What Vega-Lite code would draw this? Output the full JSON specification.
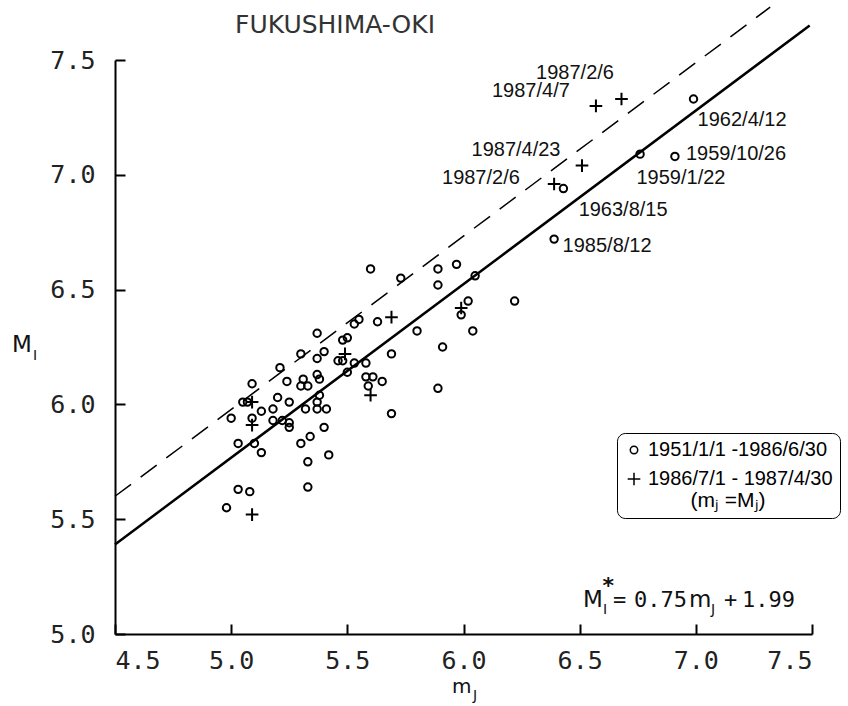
{
  "$schema": "https://vega.github.io/schema/vega-lite/v6.json",
  "width": 697,
  "height": 574,
  "autosize": {"type": "none"},
  "padding": {"left": 115, "top": 60, "right": 36, "bottom": 72},
  "background": "white",
  "config": {
    "view": {"stroke": null},
    "axis": {
      "grid": false,
      "title": null,
      "domainColor": "black",
      "domainWidth": 2,
      "tickColor": "black",
      "tickWidth": 2,
      "tickSize": -10,
      "labelFont": "DejaVu Sans Mono",
      "labelFontSize": 25,
      "labelColor": "#222",
      "format": ".1f"
    }
  },
  "datasets": {
    "points": [
      {"m": 6.99, "M": 7.33, "period": "1951/1/1 -1986/6/30"},
      {"m": 6.76, "M": 7.09, "period": "1951/1/1 -1986/6/30"},
      {"m": 6.91, "M": 7.08, "period": "1951/1/1 -1986/6/30"},
      {"m": 6.43, "M": 6.94, "period": "1951/1/1 -1986/6/30"},
      {"m": 6.39, "M": 6.72, "period": "1951/1/1 -1986/6/30"},
      {"m": 5.60, "M": 6.59, "period": "1951/1/1 -1986/6/30"},
      {"m": 5.73, "M": 6.55, "period": "1951/1/1 -1986/6/30"},
      {"m": 5.89, "M": 6.59, "period": "1951/1/1 -1986/6/30"},
      {"m": 5.97, "M": 6.61, "period": "1951/1/1 -1986/6/30"},
      {"m": 5.89, "M": 6.52, "period": "1951/1/1 -1986/6/30"},
      {"m": 6.05, "M": 6.56, "period": "1951/1/1 -1986/6/30"},
      {"m": 6.02, "M": 6.45, "period": "1951/1/1 -1986/6/30"},
      {"m": 5.99, "M": 6.39, "period": "1951/1/1 -1986/6/30"},
      {"m": 6.22, "M": 6.45, "period": "1951/1/1 -1986/6/30"},
      {"m": 6.04, "M": 6.32, "period": "1951/1/1 -1986/6/30"},
      {"m": 5.80, "M": 6.32, "period": "1951/1/1 -1986/6/30"},
      {"m": 5.91, "M": 6.25, "period": "1951/1/1 -1986/6/30"},
      {"m": 5.63, "M": 6.36, "period": "1951/1/1 -1986/6/30"},
      {"m": 5.53, "M": 6.35, "period": "1951/1/1 -1986/6/30"},
      {"m": 5.55, "M": 6.37, "period": "1951/1/1 -1986/6/30"},
      {"m": 5.48, "M": 6.28, "period": "1951/1/1 -1986/6/30"},
      {"m": 5.50, "M": 6.29, "period": "1951/1/1 -1986/6/30"},
      {"m": 5.46, "M": 6.19, "period": "1951/1/1 -1986/6/30"},
      {"m": 5.48, "M": 6.19, "period": "1951/1/1 -1986/6/30"},
      {"m": 5.53, "M": 6.18, "period": "1951/1/1 -1986/6/30"},
      {"m": 5.58, "M": 6.18, "period": "1951/1/1 -1986/6/30"},
      {"m": 5.50, "M": 6.14, "period": "1951/1/1 -1986/6/30"},
      {"m": 5.58, "M": 6.12, "period": "1951/1/1 -1986/6/30"},
      {"m": 5.61, "M": 6.12, "period": "1951/1/1 -1986/6/30"},
      {"m": 5.59, "M": 6.08, "period": "1951/1/1 -1986/6/30"},
      {"m": 5.65, "M": 6.10, "period": "1951/1/1 -1986/6/30"},
      {"m": 5.69, "M": 6.22, "period": "1951/1/1 -1986/6/30"},
      {"m": 5.89, "M": 6.07, "period": "1951/1/1 -1986/6/30"},
      {"m": 5.69, "M": 5.96, "period": "1951/1/1 -1986/6/30"},
      {"m": 5.37, "M": 6.31, "period": "1951/1/1 -1986/6/30"},
      {"m": 5.30, "M": 6.22, "period": "1951/1/1 -1986/6/30"},
      {"m": 5.40, "M": 6.23, "period": "1951/1/1 -1986/6/30"},
      {"m": 5.37, "M": 6.20, "period": "1951/1/1 -1986/6/30"},
      {"m": 5.21, "M": 6.16, "period": "1951/1/1 -1986/6/30"},
      {"m": 5.09, "M": 6.09, "period": "1951/1/1 -1986/6/30"},
      {"m": 5.24, "M": 6.10, "period": "1951/1/1 -1986/6/30"},
      {"m": 5.31, "M": 6.11, "period": "1951/1/1 -1986/6/30"},
      {"m": 5.30, "M": 6.08, "period": "1951/1/1 -1986/6/30"},
      {"m": 5.33, "M": 6.08, "period": "1951/1/1 -1986/6/30"},
      {"m": 5.37, "M": 6.13, "period": "1951/1/1 -1986/6/30"},
      {"m": 5.38, "M": 6.11, "period": "1951/1/1 -1986/6/30"},
      {"m": 5.05, "M": 6.01, "period": "1951/1/1 -1986/6/30"},
      {"m": 5.07, "M": 6.01, "period": "1951/1/1 -1986/6/30"},
      {"m": 5.20, "M": 6.03, "period": "1951/1/1 -1986/6/30"},
      {"m": 5.25, "M": 6.01, "period": "1951/1/1 -1986/6/30"},
      {"m": 5.38, "M": 6.04, "period": "1951/1/1 -1986/6/30"},
      {"m": 5.37, "M": 6.01, "period": "1951/1/1 -1986/6/30"},
      {"m": 5.13, "M": 5.97, "period": "1951/1/1 -1986/6/30"},
      {"m": 5.18, "M": 5.98, "period": "1951/1/1 -1986/6/30"},
      {"m": 5.18, "M": 5.93, "period": "1951/1/1 -1986/6/30"},
      {"m": 5.32, "M": 5.98, "period": "1951/1/1 -1986/6/30"},
      {"m": 5.37, "M": 5.98, "period": "1951/1/1 -1986/6/30"},
      {"m": 5.41, "M": 5.98, "period": "1951/1/1 -1986/6/30"},
      {"m": 5.00, "M": 5.94, "period": "1951/1/1 -1986/6/30"},
      {"m": 5.09, "M": 5.94, "period": "1951/1/1 -1986/6/30"},
      {"m": 5.22, "M": 5.93, "period": "1951/1/1 -1986/6/30"},
      {"m": 5.25, "M": 5.92, "period": "1951/1/1 -1986/6/30"},
      {"m": 5.25, "M": 5.90, "period": "1951/1/1 -1986/6/30"},
      {"m": 5.40, "M": 5.90, "period": "1951/1/1 -1986/6/30"},
      {"m": 5.03, "M": 5.83, "period": "1951/1/1 -1986/6/30"},
      {"m": 5.10, "M": 5.83, "period": "1951/1/1 -1986/6/30"},
      {"m": 5.30, "M": 5.83, "period": "1951/1/1 -1986/6/30"},
      {"m": 5.34, "M": 5.86, "period": "1951/1/1 -1986/6/30"},
      {"m": 5.13, "M": 5.79, "period": "1951/1/1 -1986/6/30"},
      {"m": 5.42, "M": 5.78, "period": "1951/1/1 -1986/6/30"},
      {"m": 5.33, "M": 5.75, "period": "1951/1/1 -1986/6/30"},
      {"m": 5.33, "M": 5.64, "period": "1951/1/1 -1986/6/30"},
      {"m": 5.03, "M": 5.63, "period": "1951/1/1 -1986/6/30"},
      {"m": 5.08, "M": 5.62, "period": "1951/1/1 -1986/6/30"},
      {"m": 4.98, "M": 5.55, "period": "1951/1/1 -1986/6/30"},
      {"m": 6.57, "M": 7.30, "period": "1986/7/1 - 1987/4/30"},
      {"m": 6.68, "M": 7.33, "period": "1986/7/1 - 1987/4/30"},
      {"m": 6.51, "M": 7.04, "period": "1986/7/1 - 1987/4/30"},
      {"m": 6.39, "M": 6.96, "period": "1986/7/1 - 1987/4/30"},
      {"m": 5.99, "M": 6.42, "period": "1986/7/1 - 1987/4/30"},
      {"m": 5.69, "M": 6.38, "period": "1986/7/1 - 1987/4/30"},
      {"m": 5.49, "M": 6.22, "period": "1986/7/1 - 1987/4/30"},
      {"m": 5.60, "M": 6.04, "period": "1986/7/1 - 1987/4/30"},
      {"m": 5.09, "M": 6.01, "period": "1986/7/1 - 1987/4/30"},
      {"m": 5.09, "M": 5.91, "period": "1986/7/1 - 1987/4/30"},
      {"m": 5.09, "M": 5.52, "period": "1986/7/1 - 1987/4/30"}
    ],
    "dates": [
      {"m": 6.48, "M": 7.442, "label": "1987/2/6"},
      {"m": 6.29, "M": 7.366, "label": "1987/4/7"},
      {"m": 7.199, "M": 7.239, "label": "1962/4/12"},
      {"m": 6.226, "M": 7.108, "label": "1987/4/23"},
      {"m": 7.173, "M": 7.091, "label": "1959/10/26"},
      {"m": 6.075, "M": 6.986, "label": "1987/2/6"},
      {"m": 6.936, "M": 6.986, "label": "1959/1/22"},
      {"m": 6.687, "M": 6.847, "label": "1963/8/15"},
      {"m": 6.618, "M": 6.69, "label": "1985/8/12"}
    ],
    "titletext": [
      {"m": 5.0165, "M": 7.618, "label": "FUKUSHIMA-OKI"}
    ],
    "sanstext": [
      {"m": 4.057, "M": 6.228, "label": "M"},
      {"m": 6.514, "M": 5.118, "label": "M"},
      {"m": 6.971, "M": 5.118, "label": "m"}
    ],
    "xtitle": [
      {"m": 5.951, "M": 4.743, "label": "m"}
    ],
    "monotext": [
      {"m": 6.6435, "M": 5.118, "label": "="},
      {"m": 6.734, "M": 5.118, "label": "0.75"},
      {"m": 7.121, "M": 5.118, "label": "+"},
      {"m": 7.199, "M": 5.118, "label": "1.99"}
    ],
    "subtext": [
      {"m": 6.041, "M": 4.713, "label": "J"},
      {"m": 4.147, "M": 6.193, "label": "I"},
      {"m": 6.600, "M": 5.087, "label": "I"},
      {"m": 7.065, "M": 5.087, "label": "J"}
    ],
    "suptext": [
      {"m": 6.598, "M": 5.178, "label": "*"}
    ]
  },
  "layer": [
    {
      "data": {"values": [{"m": 4.5, "M": 5.6}, {"m": 7.32, "M": 7.73}]},
      "mark": {"type": "line", "color": "black", "strokeWidth": 1.5, "strokeDash": [20, 12]},
      "encoding": {
        "x": {"field": "m", "type": "quantitative", "scale": {"domain": [4.5, 7.5], "nice": false, "zero": false},
              "axis": {"values": [4.5, 5.0, 5.5, 6.0, 6.5, 7.0, 7.5], "labelPadding": 24, "labelDx": 6}},
        "y": {"field": "M", "type": "quantitative", "scale": {"domain": [5.0, 7.5], "nice": false, "zero": false},
              "axis": {"values": [5.0, 5.5, 6.0, 6.5, 7.0, 7.5], "labelPadding": 30}}
      }
    },
    {
      "data": {"values": [{"m": 4.5, "M": 5.39}, {"m": 7.49, "M": 7.65}]},
      "mark": {"type": "line", "color": "black", "strokeWidth": 2.5},
      "encoding": {
        "x": {"field": "m", "type": "quantitative"},
        "y": {"field": "M", "type": "quantitative"}
      }
    },
    {
      "data": {"name": "points"},
      "mark": {"type": "point", "filled": false, "color": "black", "strokeWidth": 2, "opacity": 1},
      "encoding": {
        "x": {"field": "m", "type": "quantitative"},
        "y": {"field": "M", "type": "quantitative"},
        "shape": {
          "field": "period", "type": "nominal",
          "scale": {"domain": ["1951/1/1 -1986/6/30", "1986/7/1 - 1987/4/30"], "range": ["circle", "M-1,0L1,0M0,-1L0,1"]},
          "legend": {
            "orient": "none", "legendX": 502, "legendY": 373,
            "title": "(mⱼ =Mⱼ)", "titleOrient": "bottom", "titleAnchor": "middle",
            "titleFont": "Liberation Sans", "titleFontSize": 21, "titleFontWeight": "normal", "titlePadding": 1,
            "labelFont": "Liberation Sans", "labelFontSize": 20, "labelColor": "black", "labelLimit": 400,
            "strokeColor": "black", "cornerRadius": 8, "padding": 7, "fillColor": "white",
            "symbolStrokeColor": "black", "symbolStrokeWidth": 1.5, "rowPadding": 9
          }
        },
        "size": {
          "field": "period", "type": "nominal",
          "scale": {"domain": ["1951/1/1 -1986/6/30", "1986/7/1 - 1987/4/30"], "range": [55, 160]}
        }
      }
    },
    {
      "data": {"name": "dates"},
      "mark": {"type": "text", "font": "Liberation Sans", "fontSize": 20, "align": "center", "baseline": "middle", "color": "#111"},
      "encoding": {
        "x": {"field": "m", "type": "quantitative"},
        "y": {"field": "M", "type": "quantitative"},
        "text": {"field": "label"}
      }
    },
    {
      "data": {"name": "titletext"},
      "mark": {"type": "text", "font": "DejaVu Sans", "fontSize": 25, "align": "left", "baseline": "alphabetic", "color": "#333"},
      "encoding": {
        "x": {"field": "m", "type": "quantitative"},
        "y": {"field": "M", "type": "quantitative"},
        "text": {"field": "label"}
      }
    },
    {
      "data": {"name": "sanstext"},
      "mark": {"type": "text", "font": "DejaVu Sans", "fontSize": 23, "align": "left", "baseline": "alphabetic", "color": "#111"},
      "encoding": {
        "x": {"field": "m", "type": "quantitative"},
        "y": {"field": "M", "type": "quantitative"},
        "text": {"field": "label"}
      }
    },
    {
      "data": {"name": "xtitle"},
      "mark": {"type": "text", "font": "DejaVu Sans", "fontSize": 20, "align": "left", "baseline": "alphabetic", "color": "#111"},
      "encoding": {
        "x": {"field": "m", "type": "quantitative"},
        "y": {"field": "M", "type": "quantitative"},
        "text": {"field": "label"}
      }
    },
    {
      "data": {"name": "monotext"},
      "mark": {"type": "text", "font": "DejaVu Sans Mono", "fontSize": 22, "align": "left", "baseline": "alphabetic", "color": "#111"},
      "encoding": {
        "x": {"field": "m", "type": "quantitative"},
        "y": {"field": "M", "type": "quantitative"},
        "text": {"field": "label"}
      }
    },
    {
      "data": {"name": "subtext"},
      "mark": {"type": "text", "font": "DejaVu Sans", "fontSize": 14, "align": "left", "baseline": "alphabetic", "color": "#111"},
      "encoding": {
        "x": {"field": "m", "type": "quantitative"},
        "y": {"field": "M", "type": "quantitative"},
        "text": {"field": "label"}
      }
    },
    {
      "data": {"name": "suptext"},
      "mark": {"type": "text", "font": "DejaVu Sans", "fontSize": 22, "fontWeight": "bold", "align": "left", "baseline": "alphabetic", "color": "#111"},
      "encoding": {
        "x": {"field": "m", "type": "quantitative"},
        "y": {"field": "M", "type": "quantitative"},
        "text": {"field": "label"}
      }
    }
  ]
}
